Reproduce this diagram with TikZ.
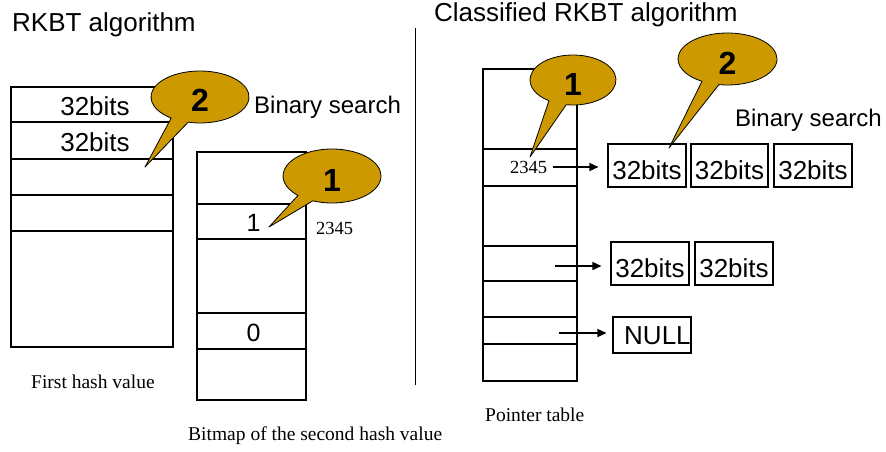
\documentclass[tikz,border=0pt]{standalone}
\usepackage{fontspec}
\setmainfont{Liberation Sans}
\newfontfamily\tnr{Liberation Serif}
\usetikzlibrary{fit,calc,arrows.meta}
\definecolor{callgold}{RGB}{204,153,0}
\tikzset{
  cellbox/.style={draw, line width=1.1pt, inner sep=0pt},
  sanslbl/.style={font=\fontsize{25}{25}\selectfont, inner sep=0pt},
  titlelbl/.style={font=\fontsize{26}{26}\selectfont, inner sep=0pt},
  bitlbl/.style={font=\fontsize{26}{26}\selectfont, inner sep=0pt},
  searchlbl/.style={font=\fontsize{24}{24}\selectfont, inner sep=0pt},
  seriflbl/.style={font=\tnr\fontsize{19.5}{20}\selectfont, inner sep=0pt},
  hashlbl/.style={font=\tnr\fontsize{18.5}{19}\selectfont, inner sep=0pt},
  num/.style={font=\bfseries\fontsize{32}{32}\selectfont, inner sep=0pt},
  callout/.style={fill=callgold, draw, line width=0.8pt, line join=round},
  ptr/.style={line width=1.5pt, -{Triangle[length=9pt,width=8pt]}},
}
% speech balloon: centre x, centre y, x radius, y radius,
% start angle, end angle of the tail base, tail tip
\newcommand\balloon[7]{%
  \draw[callout] #7 -- ($(#1,#2)+(#5:#3 and #4)$)
    arc[start angle=#5, end angle=#6-360, x radius=#3, y radius=#4] -- cycle;}

\begin{document}
\begin{tikzpicture}[x=1pt, y=-1pt]
\useasboundingbox (0,0) rectangle (886,452);

% titles and divider
\node[titlelbl, anchor=base west] (t1) at (12,32) {RKBT algorithm};
\node[titlelbl, anchor=base west] (t2) at (434,22) {Classified RKBT algorithm};
\coordinate (d1) at (415,28);
\coordinate (d2) at (415,385);
\draw[line width=0.8pt] (d1) -- (d2);

% first hash value table
\node[cellbox, fit={(11,87)(173,122)}] (a1) {};
\node[cellbox, fit={(11,122)(173,159)}] (a2) {};
\node[cellbox, fit={(11,159)(173,195)}] (a3) {};
\node[cellbox, fit={(11,195)(173,231)}] (a4) {};
\node[cellbox, fit={(11,231)(173,347)}] (a5) {};
\node[bitlbl] (a1t) at ($(a1.center)+(3,2)$) {32bits};
\node[bitlbl] (a2t) at ($(a2.center)+(3,2)$) {32bits};
\node[seriflbl, anchor=base west] (la) at (31,388) {First hash value};

% bitmap of the second hash value
\node[cellbox, fit={(197,152)(306,204)}] (b1) {};
\node[cellbox, fit={(197,204)(306,239)}] (b2) {};
\node[cellbox, fit={(197,239)(306,313)}] (b3) {};
\node[cellbox, fit={(197,313)(306,349)}] (b4) {};
\node[cellbox, fit={(197,349)(306,400)}] (b5) {};
\node[sanslbl] (b2t) at ($(b2.center)+(2,1)$) {1};
\node[sanslbl] (b4t) at ($(b4.center)+(2,2)$) {0};
\node[hashlbl, anchor=base west] (hb) at (316,234) {2345};
\node[seriflbl, anchor=base west] (lb) at (188,440) {Bitmap of the second hash value};

% pointer table
\node[cellbox, fit={(483,69)(577,149)}] (p1) {};
\node[cellbox, fit={(483,149)(577,186)}] (p2) {};
\node[cellbox, fit={(483,186)(577,246)}] (p3) {};
\node[cellbox, fit={(483,246)(577,281)}] (p4) {};
\node[cellbox, fit={(483,281)(577,317)}] (p5) {};
\node[cellbox, fit={(483,317)(577,344)}] (p6) {};
\node[cellbox, fit={(483,344)(577,381)}] (p7) {};
\node[seriflbl, anchor=base west] (lp) at (485,421) {Pointer table};
\node[hashlbl, anchor=base west] (hp) at (510,173) {2345};

% chained entries
\node[cellbox, fit={(608,144)(686,187)}] (c1) {};
\node[cellbox, fit={(691,144)(768,187)}] (c2) {};
\node[cellbox, fit={(774,144)(852,187)}] (c3) {};
\node[cellbox, fit={(611,242)(689,285)}] (e1) {};
\node[cellbox, fit={(695,242)(773,285)}] (e2) {};
\node[cellbox, fit={(613,317)(691,353)}] (nl) {};
\foreach \b in {c1,c2,c3,e1,e2}
  \node[bitlbl] (\b t) at ($(\b.center)+(0,5)$) {32bits};
\node[bitlbl, anchor=west] (nt) at (624,336) {NULL};

% pointers
\coordinate (s1) at (553,167);
\coordinate (s2) at (555,266);
\coordinate (s3) at (559,333);
\draw[ptr, shorten >=9pt] (s1) -- (s1 -| c1.west);
\draw[ptr, shorten >=9pt] (s2) -- (s2 -| e1.west);
\draw[ptr, shorten >=6pt] (s3) -- (s3 -| nl.west);

% binary search labels
\node[searchlbl, anchor=base west] (bs1) at (254,113) {Binary search};
\node[searchlbl, anchor=base east] (bs2) at (882,126) {Binary search};

% balloons
\balloon{200}{97}{49}{26}{104}{126}{(145,167)}
\node[num] (n2a) at (200,100) {2};
\balloon{332}{176}{49}{27}{113}{134}{(269,227)}
\node[num] (n1a) at (332,180) {1};
\balloon{573}{80}{43}{25}{99}{124}{(530,157)}
\node[num] (n1b) at (573,84) {1};
\balloon{727.5}{59}{49.5}{26}{100}{121}{(669,148)}
\node[num] (n2b) at (727.5,63) {2};
\end{tikzpicture}
\end{document}
